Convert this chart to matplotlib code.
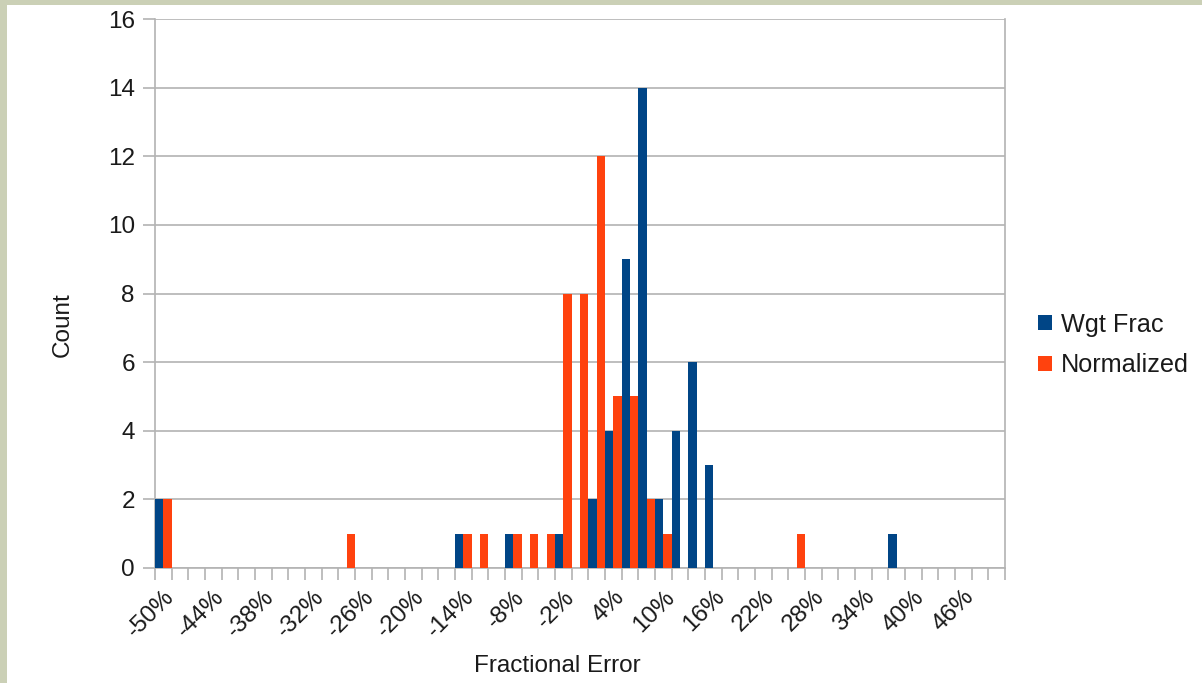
import numpy as np
import matplotlib.pyplot as plt
from matplotlib.patches import Patch, Rectangle

plt.rcParams['font.family'] = ['Liberation Sans', 'DejaVu Sans']

# categories: fractional error bins, -50% .. 50% in 2% steps
bins = list(range(-50, 51, 2))

wgt_frac_counts = {-50: 2, -14: 1, -8: 1, -2: 1, 2: 2, 4: 4, 6: 9, 8: 14,
                   10: 2, 12: 4, 14: 6, 16: 3, 38: 1}
normalized_counts = {-50: 2, -28: 1, -14: 1, -12: 1, -8: 1, -6: 1, -4: 1,
                     -2: 8, 0: 8, 2: 12, 4: 5, 6: 5, 8: 2, 10: 1, 26: 1}

wgt_frac = [wgt_frac_counts.get(b, 0) for b in bins]
normalized = [normalized_counts.get(b, 0) for b in bins]
tick_labels = ['%d%%' % b for b in bins]

blue = '#004586'
orange = '#ff420e'
grid_gray = '#b3b3b3'
text_col = '#1a1a1a'
fs = 17.5

fig = plt.figure(figsize=(12.02, 6.83), dpi=100, facecolor='#cbd0b6')
# white chart background inside the screenshot border
fig.patches.append(Rectangle((7 / 1202, 0), 1, (683 - 5) / 683,
                             transform=fig.transFigure, facecolor='white',
                             edgecolor='none', zorder=-10))

ax = fig.add_axes([155 / 1202, (683 - 568) / 683, 850 / 1202, 549 / 683])
ax.set_facecolor('white')

x = np.arange(len(bins))
bar_width = 0.5
ax.bar(x - bar_width / 2, wgt_frac, width=bar_width, color=blue, zorder=3)
ax.bar(x + bar_width / 2, normalized, width=bar_width, color=orange, zorder=3)

ax.set_xlim(-0.5, len(bins) - 0.5)
ax.set_ylim(0, 16)
ax.set_yticks(range(0, 17, 2))
ax.yaxis.grid(True, color=grid_gray, linewidth=1.2, zorder=0)
ax.set_axisbelow(True)

# tick marks at category boundaries, labels at every third category center
ax.set_xticks(np.arange(-0.5, len(bins), 1.0))
ax.set_xticklabels([])
ax.set_xticks(x[::3], minor=True)
ax.set_xticklabels(tick_labels[::3], minor=True, rotation=45, ha='right',
                   va='top', rotation_mode='anchor', fontsize=fs, color=text_col)
ax.tick_params(axis='x', which='major', length=8.5, width=1.2, color=grid_gray)
ax.tick_params(axis='x', which='minor', length=0, pad=13)
ax.tick_params(axis='y', length=8.5, width=1.2, color=grid_gray,
               labelsize=fs, labelcolor=text_col, pad=6)

for side in ['left', 'right', 'bottom']:
    ax.spines[side].set_color(grid_gray)
    ax.spines[side].set_linewidth(1.2)
ax.spines['top'].set_visible(False)

fig.text(63 / 1202, 1 - 325 / 683, 'Count', rotation=90, ha='center',
         va='center', fontsize=fs, color=text_col)
fig.text(557 / 1202, 1 - 666 / 683, 'Fractional Error', ha='center',
         va='center', fontsize=fs, color=text_col)

handles = [Patch(facecolor=blue, label='Wgt Frac'),
           Patch(facecolor=orange, label='Normalized')]
fig.legend(handles=handles, loc='center left',
           bbox_to_anchor=(1038 / 1202, 1 - 345 / 683), frameon=False,
           fontsize=18.2, handlelength=0.55, handleheight=0.55,
           handletextpad=0.35, labelspacing=0.65, borderpad=0,
           borderaxespad=0, labelcolor=text_col)

fig.savefig('out.png', dpi=100, facecolor=fig.get_facecolor())
